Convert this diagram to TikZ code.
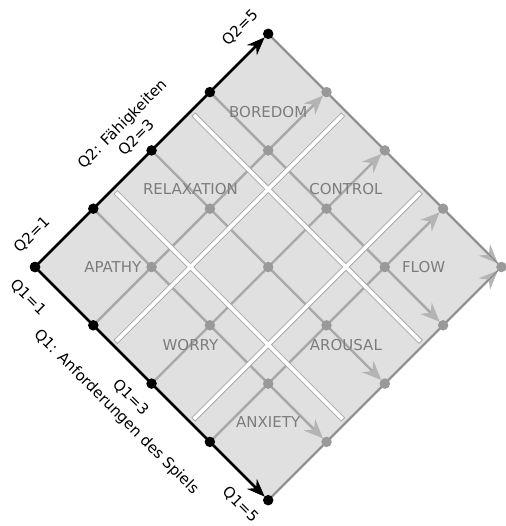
\documentclass[tikz,border=0pt]{standalone}
\usepackage{fontspec}
\setmainfont{DejaVu Sans}
\usetikzlibrary{arrows.meta,calc,positioning}

\definecolor{zonefill}{HTML}{E0E0E0}
\definecolor{zoneedge}{HTML}{8C8C8C}
\definecolor{pathgray}{HTML}{A8A8A8}
\definecolor{tipgray}{HTML}{B4B4B4}
\definecolor{dotgray}{HTML}{999999}
\definecolor{zonetext}{HTML}{7C7C7C}

\begin{document}
\begin{tikzpicture}[x=1pt,y=1pt,
  every node/.style={font=\fontsize{15}{20}\selectfont,inner sep=0pt,align=center},
  zonelabel/.style={text=zonetext},
  axis/.style={line width=2.6pt,-{Stealth[length=18pt,width=14pt]},shorten >=5pt},
  pathline/.style={draw=pathgray,line width=2.4pt,-{Stealth[length=19pt,width=16pt,color=tipgray]},shorten >=5pt},
  gapedge/.style={draw=pathgray,line width=5.4pt,shorten >=4pt,shorten <=4pt},
  gapcore/.style={draw=white,line width=3.6pt,shorten >=4.8pt,shorten <=4.8pt},
  blackdot/.style={circle,fill=black,minimum size=10.5pt},
  graydot/.style={circle,fill=dotgray,minimum size=10.5pt}]
\useasboundingbox (0,0) rectangle (505,-526);
\begin{scope}[shift={(-81.6,-267)},x={(58.3pt,-58.3pt)},y={(58.3pt,58.3pt)}]
\foreach \u in {1,...,5}
  \foreach \v in {1,...,5}
    \coordinate (P-\u-\v) at (\u,\v);
\fill[zonefill] (P-1-1) -- (P-5-1) -- (P-5-5) -- (P-1-5) -- cycle;
% paths through the grid
\foreach \k in {2,...,5} {
  \draw[pathline] (P-\k-1) -- (P-\k-5);
  \draw[pathline] (P-1-\k) -- (P-5-\k);
}
% white cuts between the zones
\foreach \g [count=\i] in {2.3333,3.6667} {
  \coordinate (CutA\i) at (\g,1);
  \coordinate (CutB\i) at (\g,5);
  \coordinate (CutC\i) at (1,\g);
  \coordinate (CutD\i) at (5,\g);
}
\foreach \i in {1,2} {
  \draw[gapedge] (CutA\i) -- (CutB\i);
  \draw[gapedge] (CutC\i) -- (CutD\i);
}
\foreach \i in {1,2} {
  \draw[gapcore] (CutA\i) -- (CutB\i);
  \draw[gapcore] (CutC\i) -- (CutD\i);
}
\draw[zoneedge,line width=1.2pt] (P-1-5) -- (P-5-5) -- (P-5-1);
\foreach \u in {2,...,5}
  \foreach \v in {2,...,5}
    \node[graydot] (Dot-\u-\v) at (P-\u-\v) {};
% axes
\draw[axis] (P-1-1) -- (P-1-5);
\draw[axis] (P-1-1) -- (P-5-1);
\foreach \k in {1,...,5} {
  \node[blackdot] (QTwo-\k) at (P-1-\k) {};
  \node[blackdot] (QOne-\k) at (P-\k-1) {};
}
\node[rotate=45] (QTwoOne) at (0.70,1.25) {Q2=1};
\node[rotate=45] (QTwoName) at (0.645,2.975) {Q2: Fähigkeiten\\Q2=3};
\node[rotate=45] (QTwoFive) at (0.71,4.81) {Q2=5};
\node[rotate=-45] (QOneOne) at (1.20,0.68) {Q1=1};
\node[rotate=-45] (QOneName) at (2.94,0.57) {Q1=3\\Q1: Anforderungen des Spiels};
\node[rotate=-45] (QOneFive) at (4.80,0.72) {Q1=5};
% zones
\node[zonelabel] (Boredom) at (1.667,4.333) {BOREDOM};
\node[zonelabel] (Relaxation) at (1.667,3) {RELAXATION};
\node[zonelabel] (Apathy) at (1.667,1.667) {APATHY};
\node[zonelabel] (Control) at (3,4.333) {CONTROL};
\node[zonelabel] (Worry) at (3,1.667) {WORRY};
\node[zonelabel] (Flow) at (4.333,4.333) {FLOW};
\node[zonelabel] (Arousal) at (4.333,3) {AROUSAL};
\node[zonelabel] (Anxiety) at (4.333,1.667) {ANXIETY};
\end{scope}
\end{tikzpicture}
\end{document}
